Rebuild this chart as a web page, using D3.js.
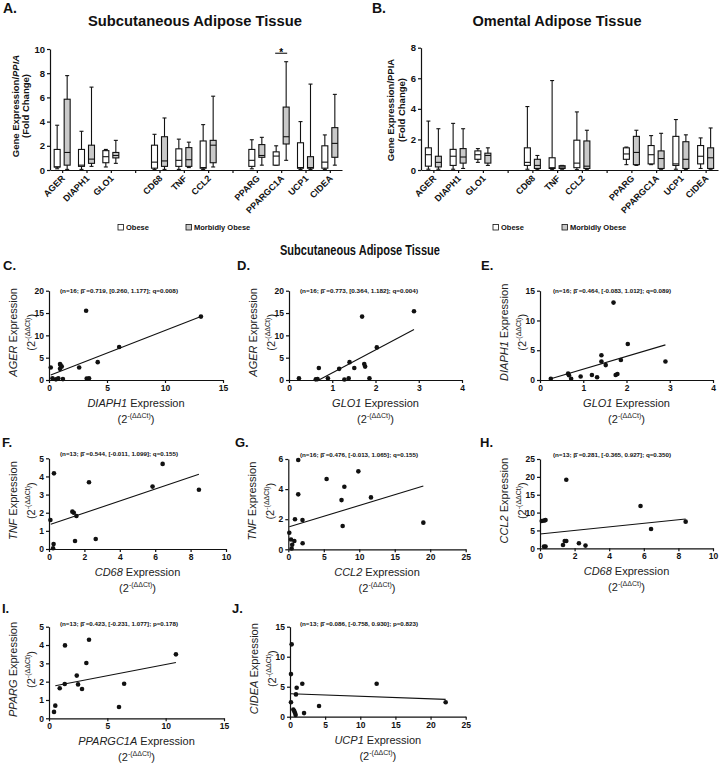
<!DOCTYPE html>
<html><head><meta charset="utf-8">
<script src="https://cdn.jsdelivr.net/npm/d3@7"></script>
<style>body{margin:0;background:#fff} svg{font-family:Arial,"Liberation Sans",Helvetica,sans-serif}</style>
</head><body><svg id="c" width="719" height="764"></svg>
<script>
// ---------- DATA ----------
const slots = ["AGER","DIAPH1","GLO1","_g1","CD68","TNF","CCL2","_g2","PPARG","PPARGC1A","UCP1","CIDEA"];
const genes = ["AGER","DIAPH1","GLO1","CD68","TNF","CCL2","PPARG","PPARGC1A","UCP1","CIDEA"];
// [min, q1, median, q3, max]
const satObese = [[0.1,0.25,0.25,1.7,3.7],[0.05,0.3,0.4,1.7,3.2],[0.25,0.6,1.1,1.6,1.7],[0.05,0.15,0.65,2.05,2.95],[0.05,0.3,0.8,1.75,2.55],[0.05,0.15,0.2,2.4,3.75],[0.1,0.3,0.8,1.7,2.5],[0.4,0.4,1.15,1.5,2.0],[0.05,0.15,0.2,2.25,4.0],[0.05,0.15,0.65,2.0,2.9]];
const satMorbid = [[0.05,0.4,1.45,5.85,7.8],[0.3,0.55,0.9,2.05,6.85],[0.55,1.0,1.2,1.45,2.45],[0.05,0.3,0.75,2.75,4.3],[0.2,0.3,0.85,1.85,2.3],[0.25,0.6,2.05,2.45,6.1],[0.4,1.05,1.2,2.1,2.7],[0.8,2.15,2.75,5.2,8.95],[0.05,0.15,0.2,1.1,7.1],[0.4,1.05,2.2,3.5,6.25]];
const oatObese = [[0.05,0.25,1.0,1.45,3.2],[0.05,0.3,0.9,1.35,3.05],[0.5,0.7,1.0,1.25,1.4],[0.05,0.3,0.5,1.45,4.15],[0.02,0.1,0.15,0.8,5.85],[0.02,0.15,0.45,1.95,3.8],[0.35,0.7,1.05,1.45,1.5],[0.35,0.4,1.0,1.6,2.25],[0.05,0.3,0.4,2.2,3.3],[0.1,0.4,0.9,1.6,2.1]];
const oatMorbid = [[0.05,0.2,0.5,0.9,2.7],[0.1,0.45,0.85,1.4,2.7],[0.3,0.45,0.95,1.1,1.45],[0.02,0.1,0.3,0.7,0.95],[0.05,0.1,0.2,0.28,0.3],[0.02,0.1,0.25,1.9,2.6],[0.3,0.35,1.15,2.2,2.6],[0.05,0.1,0.75,1.25,2.4],[0.02,0.1,0.7,1.85,2.3],[0.05,0.1,0.8,1.45,2.75]];
const satTicks = [0,2,4,6,8,10];
const oatTicks = [0,2,4,6,8];
const satSig = [{gene:"PPARGC1A", y:9.65, label:"*"}];
const legendLabels = ["Obese","Morbidly Obese"];

const scatterC = [[0.15,2.8],[0.3,0.4],[0.6,0.15],[0.8,0.4],[0.95,3.6],[0.95,2.5],[1.0,3.3],[1.1,3.0],[1.2,0.2],[2.6,2.8],[3.2,15.5],[3.25,0.35],[3.45,0.4],[4.2,4.0],[6.05,7.4],[13.1,14.2]];
const fitC = [[0.15,1.1],[13.1,14.2]];
const scatterD = [[0.23,0.4],[0.62,0.15],[0.66,0.2],[0.69,2.7],[0.9,0.4],[1.16,2.5],[1.28,0.1],[1.38,0.4],[1.4,4.0],[1.51,2.7],[1.69,14.2],[1.74,3.6],[1.76,3.0],[1.86,0.4],[2.03,7.3],[2.89,15.4]];
const fitD = [[0.69,0.0],[2.89,11.3]];
const scatterE = [[0.25,0.2],[0.65,1.1],[0.67,0.8],[0.72,0.2],[0.94,0.6],[1.2,0.85],[1.32,0.45],[1.42,4.15],[1.42,3.1],[1.52,2.5],[1.7,13.0],[1.75,0.85],[1.79,1.0],[1.87,3.35],[2.03,6.05],[2.9,3.1]];
const fitE = [[0.25,0.2],[2.9,5.9]];
const scatterF = [[0.08,1.6],[0.23,0.04],[0.26,0.27],[0.28,4.17],[1.32,2.06],[1.4,2.0],[1.55,1.82],[1.47,0.44],[2.26,3.68],[2.64,0.55],[5.85,3.44],[6.42,4.69],[8.47,3.27]];
const fitF = [[0.1,1.36],[8.47,4.12]];
const scatterG = [[0.14,1.1],[0.38,0.65],[0.85,0.55],[0.55,0.3],[0.47,0.05],[0.94,2.0],[1.4,5.93],[1.4,3.65],[2.0,1.95],[2.02,0.4],[5.4,4.67],[7.5,3.27],[7.66,1.55],[7.9,4.16],[9.87,5.18],[11.65,3.45],[19.03,1.77]];
const fitG = [[0.14,1.5],[19.03,4.2]];
const scatterH = [[0.1,7.65],[0.23,7.75],[0.32,7.9],[0.23,0.47],[0.32,0.47],[1.33,0.93],[1.43,2.05],[1.52,2.05],[1.52,19.2],[2.25,1.4],[2.63,0.75],[5.81,11.85],[6.42,5.4],[8.42,7.46]];
const fitH = [[0.0,4.0],[8.42,8.2]];
const scatterI = [[0.43,0.35],[0.54,0.69],[0.92,1.64],[1.35,1.87],[1.37,3.98],[2.38,2.33],[2.49,1.85],[2.83,1.6],[3.2,3.02],[3.43,4.29],[6.0,0.62],[6.44,1.89],[10.88,3.49]];
const fitI = [[0.54,1.78],[10.88,3.05]];
const scatterJ = [[0.24,12.06],[0.14,7.1],[0.14,2.4],[0.47,1.2],[0.6,0.95],[0.7,0.65],[0.8,0.3],[0.85,3.72],[0.95,4.83],[1.75,5.5],[2.0,0.6],[4.13,1.78],[12.33,5.5],[22.15,2.4]];
const fitJ = [[0.14,3.83],[22.15,2.89]];

// ---------- DRAW ----------
const svg = d3.select("#c");
const INK = "#111";
const GRAY = "#c9c9c9";
const FMT = d3.format("d");

function txt(x, y, s, opt={}) {
  const t = svg.append("text").attr("x", x).attr("y", y).text(s)
    .attr("font-size", opt.size || 10).attr("font-weight", opt.weight || "normal")
    .attr("text-anchor", opt.anchor || "start").attr("fill", opt.fill || INK);
  if (opt.len) t.attr("textLength", opt.len).attr("lengthAdjust", "spacingAndGlyphs");
  return t;
}

function boxPanel(cfg) {
  const g = svg.append("g");
  const x = d3.scalePoint().domain(slots).range([cfg.x0, cfg.x1]).padding(0.5);
  const y = d3.scaleLinear().domain([0, cfg.ymax]).range([170, cfg.ytop]);
  const ya = g.append("g").attr("transform", `translate(${cfg.x0},0)`)
    .call(d3.axisLeft(y).tickValues(cfg.ticks).tickFormat(FMT).tickSize(3).tickSizeOuter(0).tickPadding(2));
  ya.selectAll("text").attr("font-size", 9.5).attr("font-weight", "bold").attr("fill", INK).attr("font-family","Arial,'Liberation Sans',sans-serif");
  const xa = g.append("g").attr("transform", `translate(0,170)`)
    .call(d3.axisBottom(x).tickSize(3).tickSizeOuter(0).tickFormat(d => d.startsWith("_") ? "" : d));
  xa.selectAll("text").attr("font-size", 9).attr("font-weight", "bold").attr("fill", INK)
    .attr("font-family","Arial,'Liberation Sans',sans-serif")
    .attr("text-anchor", "end").attr("dy", 0).attr("y", 0)
    .attr("transform", "translate(3,9) rotate(-45)");
  [ya, xa].forEach(a => { a.selectAll("path,line").attr("stroke", INK).attr("stroke-width", 1.2); });
  const series = [{data: cfg.obese, off: -5, fill: "#fff"}, {data: cfg.morbid, off: 5, fill: GRAY}];
  series.forEach(s => {
    genes.forEach((gn, i) => {
      const d = s.data[i];
      const cx = x(gn) + s.off, w = 6;
      const bg = g.append("g").attr("stroke", INK).attr("stroke-width", 1.1);
      bg.append("line").attr("x1", cx).attr("x2", cx).attr("y1", y(d[4])).attr("y2", y(d[0]));
      bg.append("line").attr("x1", cx-2).attr("x2", cx+2).attr("y1", y(d[4])).attr("y2", y(d[4]));
      bg.append("line").attr("x1", cx-2).attr("x2", cx+2).attr("y1", y(d[0])).attr("y2", y(d[0]));
      bg.append("rect").attr("x", cx - w/2).attr("width", w).attr("y", y(d[3])).attr("height", Math.max(0.5, y(d[1]) - y(d[3]))).attr("fill", s.fill);
      bg.append("line").attr("x1", cx - w/2).attr("x2", cx + w/2).attr("y1", y(d[2])).attr("y2", y(d[2]));
    });
  });
  (cfg.sig || []).forEach(sg => {
    const cx = x(sg.gene);
    g.append("line").attr("x1", cx-6).attr("x2", cx+6).attr("y1", y(sg.y)).attr("y2", y(sg.y)).attr("stroke", INK).attr("stroke-width", 1.1);
    g.append("text").attr("x", cx).attr("y", y(sg.y) + 3).attr("text-anchor", "middle").attr("font-size", 10).attr("font-weight", "bold").text(sg.label);
  });
}

boxPanel({x0: 50, x1: 342, ymax: 10, ytop: 49, ticks: satTicks, obese: satObese, morbid: satMorbid, sig: satSig});
boxPanel({x0: 421, x1: 718, ymax: 8, ytop: 47.7, ticks: oatTicks, obese: oatObese, morbid: oatMorbid});

// Titles & labels top
txt(3, 13, "A.", {size: 14, weight: "bold"});
txt(372, 13, "B.", {size: 14, weight: "bold"});
txt(195, 26, "Subcutaneous Adipose Tissue", {size: 14, weight: "bold", anchor: "middle", len: 214});
txt(557, 26, "Omental Adipose Tissue", {size: 14, weight: "bold", anchor: "middle", len: 169});

function yLabelTop(cx1, cx2, cy, italic) {
  const t1 = svg.append("text").attr("transform", `translate(${cx1},${cy}) rotate(-90)`)
    .attr("text-anchor", "middle").attr("font-size", 9.5).attr("font-weight", "bold").attr("fill", INK);
  t1.append("tspan").text("Gene Expression/");
  t1.append("tspan").text("PPIA").attr("font-style", italic ? "italic" : "normal");
  svg.append("text").attr("transform", `translate(${cx2},${cy}) rotate(-90)`)
    .attr("text-anchor", "middle").attr("font-size", 9.5).attr("font-weight", "bold").attr("fill", INK).text("(Fold Change)");
}
yLabelTop(19, 29, 106, true);
yLabelTop(393.5, 404.5, 110, false);

// legends
function legend(x1, x2, y) {
  [[x1, "#fff"], [x2, GRAY]].forEach((p, i) => {
    svg.append("rect").attr("x", p[0]).attr("y", y - 5.5).attr("width", 5.5).attr("height", 5.5).attr("fill", p[1]).attr("stroke", INK).attr("stroke-width", 0.8);
    txt(p[0] + 8, y, legendLabels[i], {size: 7.5, weight: "bold"});
  });
}
legend(118, 186, 230);
legend(493, 562, 230);

txt(360, 255, "Subcutaneous Adipose Tissue", {size: 14, weight: "bold", anchor: "middle", len: 160});

// panel letters
[["C.",3,270],["D.",237,270],["E.",481,270],["F.",2,447],["G.",235,447],["H.",480,447],["I.",2,613],["J.",232,613]]
  .forEach(p => txt(p[1], p[2], p[0], {size: 13, weight: "bold"}));

function expoLabel(sel) {
  sel.append("tspan").text("(2");
  sel.append("tspan").text("-(ΔΔCt)").attr("font-size", 7).attr("dy", -5);
  sel.append("tspan").text(")").attr("dy", 5);
}

function scatter(cfg) {
  const g = svg.append("g");
  const x = d3.scaleLinear().domain(cfg.xd).range([cfg.l, cfg.r]);
  const y = d3.scaleLinear().domain(cfg.yd).range([cfg.b, cfg.t]);
  const ya = g.append("g").attr("transform", `translate(${cfg.l},0)`)
    .call(d3.axisLeft(y).tickValues(cfg.yt).tickFormat(FMT).tickSize(3).tickSizeOuter(0).tickPadding(2));
  const xa = g.append("g").attr("transform", `translate(0,${cfg.b})`)
    .call(d3.axisBottom(x).tickValues(cfg.xt).tickFormat(FMT).tickSize(3).tickSizeOuter(0).tickPadding(2));
  [ya, xa].forEach(a => {
    a.selectAll("path,line").attr("stroke", INK).attr("stroke-width", 1.2);
    a.selectAll("text").attr("font-size", 8.5).attr("font-weight", "bold").attr("fill", INK).attr("font-family","Arial,'Liberation Sans',sans-serif");
  });
  g.append("line").attr("x1", x(cfg.fit[0][0])).attr("y1", y(cfg.fit[0][1]))
    .attr("x2", x(cfg.fit[1][0])).attr("y2", y(cfg.fit[1][1])).attr("stroke", INK).attr("stroke-width", 1.1);
  g.selectAll("circle.pt").data(cfg.pts).enter().append("circle")
    .attr("cx", d => x(d[0])).attr("cy", d => y(d[1])).attr("r", 2.3).attr("fill", INK);
  txt(cfg.ax, cfg.ay, cfg.note, {size: 6, weight: "bold", len: 118});
  // y label
  const cy = (cfg.t + cfg.b) / 2 - 3;
  const t1 = svg.append("text").attr("transform", `translate(${cfg.l - 32},${cy}) rotate(-90)`)
    .attr("text-anchor", "middle").attr("font-size", 11).attr("fill", "#222");
  t1.append("tspan").text(cfg.yg).attr("font-style", "italic");
  t1.append("tspan").text(" Expression");
  const t2 = svg.append("text").attr("transform", `translate(${cfg.l - 14},${cy}) rotate(-90)`)
    .attr("text-anchor", "middle").attr("font-size", 11).attr("fill", "#222");
  expoLabel(t2);
  // x label
  const cx = (cfg.l + cfg.r) / 2;
  const t3 = svg.append("text").attr("x", cx).attr("y", cfg.b + 27).attr("text-anchor", "middle").attr("font-size", 11).attr("fill", "#222");
  t3.append("tspan").text(cfg.xg).attr("font-style", "italic");
  t3.append("tspan").text(" Expression");
  const t4 = svg.append("text").attr("x", cx).attr("y", cfg.b + 43).attr("text-anchor", "middle").attr("font-size", 11).attr("fill", "#222");
  expoLabel(t4);
}

const B = "\u03B2\u0302";
scatter({l:49, r:223, b:380, t:290.7, xd:[0,15], yd:[0,20], xt:[0,5,10,15], yt:[0,5,10,15,20], pts:scatterC, fit:fitC, xg:"DIAPH1", yg:"AGER", ax:60, ay:293, note:`(n=16; ${B} =0.719, [0.260, 1.177]; q=0.008)`});
scatter({l:289, r:462, b:380, t:290.7, xd:[0,4], yd:[0,20], xt:[0,1,2,3,4], yt:[0,5,10,15,20], pts:scatterD, fit:fitD, xg:"GLO1", yg:"AGER", ax:300, ay:293, note:`(n=16; ${B} =0.773, [0.364, 1.182]; q=0.004)`});
scatter({l:540, r:713, b:380, t:290.7, xd:[0,4], yd:[0,15], xt:[0,1,2,3,4], yt:[0,5,10,15], pts:scatterE, fit:fitE, xg:"GLO1", yg:"DIAPH1", ax:553, ay:293, note:`(n=16; ${B} =0.464, [-0.083, 1.012]; q=0.089)`});
scatter({l:49, r:226, b:549, t:458.3, xd:[0,10], yd:[0,5], xt:[0,2,4,6,8,10], yt:[0,1,2,3,4,5], pts:scatterF, fit:fitF, xg:"CD68", yg:"TNF", ax:60, ay:456, note:`(n=13; ${B} =0.544, [-0.011, 1.099]; q=0.155)`});
scatter({l:288.3, r:465.7, b:549.3, t:459, xd:[0,25], yd:[0,6], xt:[0,5,10,15,20,25], yt:[0,2,4,6], pts:scatterG, fit:fitG, xg:"CCL2", yg:"TNF", ax:300, ay:457, note:`(n=16; ${B} =0.476, [-0.013, 1.065]; q=0.155)`});
scatter({l:540, r:713, b:548.3, t:459, xd:[0,10], yd:[0,25], xt:[0,2,4,6,8,10], yt:[0,5,10,15,20,25], pts:scatterH, fit:fitH, xg:"CD68", yg:"CCL2", ax:553, ay:457, note:`(n=13; ${B} =0.281, [-0.365, 0.927]; q=0.350)`});
scatter({l:49, r:224, b:718.3, t:626.7, xd:[0,15], yd:[0,5], xt:[0,5,10,15], yt:[0,1,2,3,4,5], pts:scatterI, fit:fitI, xg:"PPARGC1A", yg:"PPARG", ax:60, ay:626, note:`(n=13; ${B} =0.423, [-0.231, 1.077]; p=0.178)`});
scatter({l:290, r:465.7, b:716.7, t:626.7, xd:[0,25], yd:[0,15], xt:[0,5,10,15,20,25], yt:[0,5,10,15], pts:scatterJ, fit:fitJ, xg:"UCP1", yg:"CIDEA", ax:300, ay:626, note:`(n=13; ${B} =0.086, [-0.758, 0.930]; p=0.823)`});
</script></body></html>
